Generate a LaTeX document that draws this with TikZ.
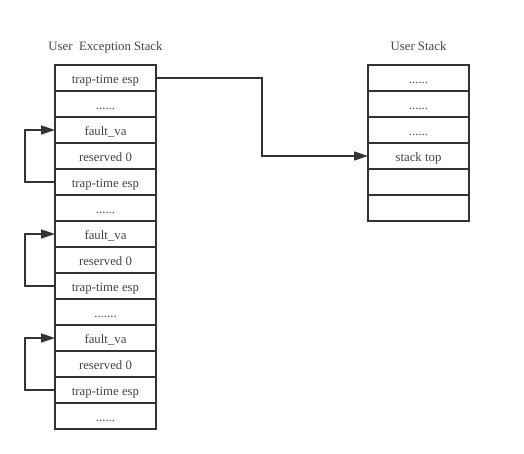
\documentclass[tikz,border=0pt]{standalone}
\usepackage{fontspec}
\setmainfont{Liberation Serif}
\usetikzlibrary{positioning, arrows.meta}
\definecolor{linecol}{HTML}{333333}
\definecolor{textcol}{HTML}{444444}
\newcommand{\sixdots}{......}
\newcommand{\sevendots}{.......}
\tikzset{
	cell/.style={
		draw=linecol,
		line width=1.6pt,
		minimum width=101pt,
		minimum height=26pt,
		inner sep=0pt,
		outer sep=0pt,
		text height=12pt,
		text depth=0pt,
		text=textcol,
		font={\fontsize{12.8}{14}\selectfont}
	},
	stacktitle/.style={
		inner sep=0pt,
		text depth=0pt,
		text=textcol,
		font={\fontsize{12.8}{14}\selectfont}
	},
	link/.style={
		draw=linecol,
		line width=1.6pt,
		-{Triangle[length=14pt, width=9pt]}
	}
}

\begin{document}
\begin{tikzpicture}
	\useasboundingbox (0,0) rectangle (524pt,454pt);

	% exception stack
	\node(e1)[cell] at (105.5pt,376pt){trap-time esp};
	\foreach \txt [count=\i from 2, evaluate=\i as \j using int(\i-1)] in
		{\sixdots, fault\_va, reserved 0, trap-time esp,
		 \sixdots, fault\_va, reserved 0, trap-time esp,
		 \sevendots, fault\_va, reserved 0, trap-time esp, \sixdots}
		\node(e\i)[cell, below=0pt of e\j]{\txt};
	\node(etitle)[stacktitle, above=14pt of e1]{User\ \ Exception Stack};

	% user stack
	\node(s1)[cell] at (418.5pt,376pt){\sixdots};
	\foreach \txt [count=\i from 2, evaluate=\i as \j using int(\i-1)] in
		{\sixdots, \sixdots, stack top, {}, {}}
		\node(s\i)[cell, below=0pt of s\j]{\txt};
	\node(stitle)[stacktitle, above=14pt of s1]{User Stack};

	\draw[link] (e1.east) -- ++(106pt,0) |- (s4.west);
	\draw[link] (e5.west) -- ++(-30pt,0) |- (e3.west);
	\draw[link] (e9.west) -- ++(-30pt,0) |- (e7.west);
	\draw[link] (e13.west) -- ++(-30pt,0) |- (e11.west);
\end{tikzpicture}
\end{document}
